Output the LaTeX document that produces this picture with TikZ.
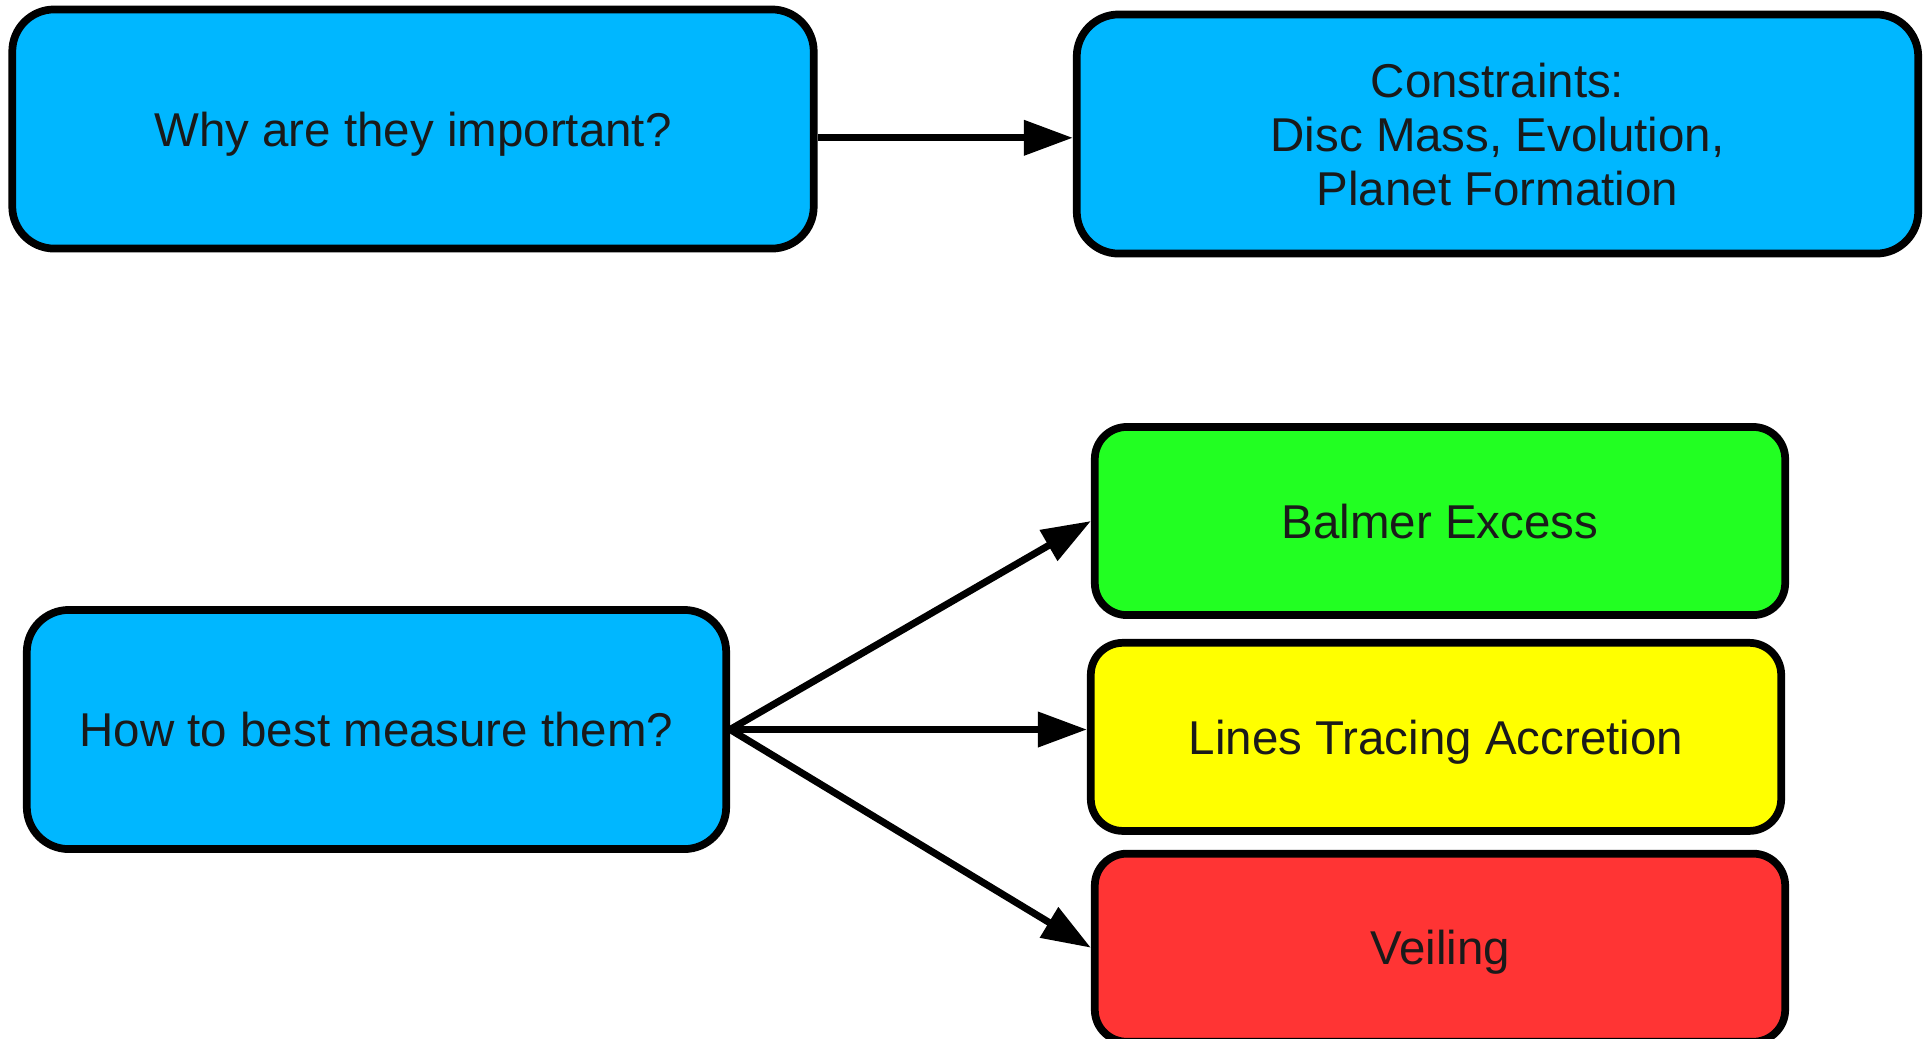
\documentclass[tikz,border=0pt]{standalone}
\usepackage{fontspec}
\setmainfont{Liberation Sans}
\usepackage{xcolor}
\usetikzlibrary{positioning,arrows.meta}
\definecolor{skyfill}{HTML}{00B7FF}
\definecolor{greenfill}{HTML}{22FF22}
\definecolor{yellowfill}{HTML}{FFFF00}
\definecolor{redfill}{HTML}{FF3434}
\definecolor{inktext}{HTML}{1A1A1A}

\begin{document}
\begin{tikzpicture}[x=0.01cm, y=-0.01cm,
  box/.style={draw=black, line width=2.2pt, text=inktext, align=center, text depth=0pt, font=\fontsize{13.5}{15.4}\selectfont},
  bigbox/.style={box, rounded corners=0.42cm, fill=skyfill, minimum height=2.39cm},
  smallbox/.style={box, rounded corners=0.32cm, minimum width=6.9cm, minimum height=1.88cm},
  arr/.style={-{Triangle[length=4.9mm,width=3.4mm]}, line width=2pt}]
\useasboundingbox (0,0) rectangle (1929,1038);
% question boxes
\node[bigbox, minimum width=8.01cm] (why) at (413,129) {Why are they important?};
\node[bigbox, minimum width=8.41cm] (constr) at (1497.5,134) {Constraints:\\Disc Mass, Evolution,\\ Planet Formation};
\node[bigbox, minimum width=6.99cm] (how) at (376.5,729.5) {How to best measure them?};
% measurement methods
\node[smallbox, fill=greenfill] (balmer) at (1440,521) {Balmer Excess};
\node[smallbox, fill=yellowfill, below=0.2cm of balmer, xshift=-0.04cm] (lines) {Lines Tracing Accretion};
\node[smallbox, fill=redfill, below=0.15cm of lines, xshift=0.04cm] (veil) {Veiling};
\draw[arr] ([yshift=-2.5pt]why.east) -- ([yshift=-2.5pt]why.east -| constr.west);
\draw[arr] (how.east) -- (balmer.west);
\draw[arr] (how.east) -- (how.east -| lines.west);
\draw[arr] (how.east) -- (veil.west);
\end{tikzpicture}
\end{document}
